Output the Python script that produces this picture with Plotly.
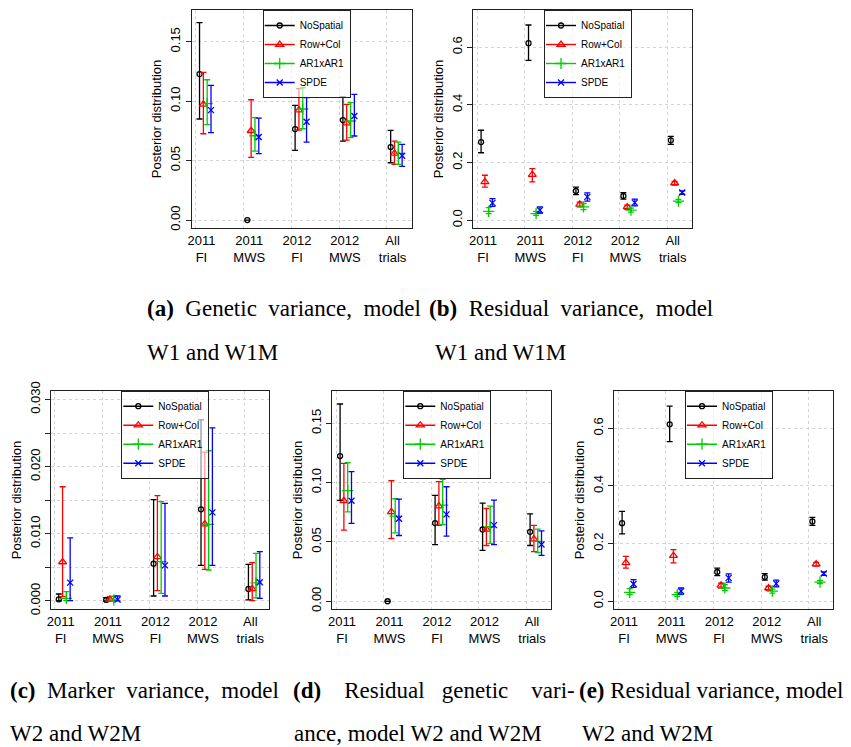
import plotly.graph_objects as go

# ---------------- data ----------------
GROUPS = ["2011<br>FI", "2011<br>MWS", "2012<br>FI", "2012<br>MWS", "All<br>trials"]
SERIES = ["NoSpatial", "Row+Col", "AR1xAR1", "SPDE"]

# (a) Genetic variance, model W1 and W1M  -- rows: NoSpatial, Row+Col, AR1xAR1, SPDE
A_EST = [[0.1228, 0.0, 0.0765, 0.0841, 0.0614],
         [0.0973, 0.0751, 0.0925, 0.0816, 0.0561],
         [0.0979, 0.0709, 0.0934, 0.0833, 0.0561],
         [0.0925, 0.0698, 0.0827, 0.0875, 0.0541]]
A_LO = [[0.0850, 0.0, 0.0586, 0.0664, 0.0482],
        [0.0726, 0.0527, 0.0757, 0.0673, 0.0468],
        [0.0802, 0.0580, 0.0768, 0.0693, 0.0468],
        [0.0735, 0.0558, 0.0656, 0.0707, 0.0451]]
A_HI = [[0.1660, 0.0, 0.0964, 0.1035, 0.0754],
        [0.1242, 0.1012, 0.1105, 0.0973, 0.0664],
        [0.1180, 0.0861, 0.1113, 0.0987, 0.0656],
        [0.1133, 0.0858, 0.1029, 0.1057, 0.0636]]

# (b) Residual variance, model W1 and W1M
B_EST = [[0.271, 0.614, 0.1015, 0.084, 0.277],
         [0.133, 0.158, 0.055, 0.046, 0.129],
         [0.031, 0.023, 0.046, 0.035, 0.066],
         [0.060, 0.035, 0.081, 0.061, 0.096]]
B_LO = [[0.234, 0.554, 0.089, 0.073, 0.263],
        [0.115, 0.133, 0.046, 0.038, 0.122],
        [0.023, 0.017, 0.037, 0.028, 0.061],
        [0.048, 0.025, 0.066, 0.050, 0.090]]
B_HI = [[0.312, 0.677, 0.115, 0.096, 0.291],
        [0.156, 0.179, 0.063, 0.052, 0.135],
        [0.044, 0.031, 0.058, 0.042, 0.072],
        [0.075, 0.046, 0.095, 0.073, 0.102]]

# (c) Marker variance, model W2 and W2M
C_EST = [[0.00025, 0.00015, 0.00555, 0.01364, 0.00179],
         [0.00580, 0.00025, 0.00655, 0.01145, 0.00179],
         [0.00040, 0.00015, 0.00585, 0.01140, 0.00268],
         [0.00273, 0.00020, 0.00530, 0.01319, 0.00278]]
C_LO = [[0.0, 0.0, 0.00074, 0.00530, 0.00015],
        [0.00064, 0.0, 0.00154, 0.00471, 0.00005],
        [0.00005, 0.0, 0.00114, 0.00461, 0.00045],
        [0.00005, 0.0, 0.00074, 0.00530, 0.00040]]
C_HI = [[0.00104, 0.00050, 0.01510, 0.02697, 0.00545],
        [0.01700, 0.00064, 0.01567, 0.02217, 0.00570],
        [0.00140, 0.00070, 0.01478, 0.02236, 0.00709],
        [0.00940, 0.00074, 0.01453, 0.02578, 0.00734]]

# (d) Residual genetic variance, model W2 and W2M
D_EST = [[0.1224, 0.0, 0.0659, 0.0605, 0.0585],
         [0.0847, 0.0754, 0.0802, 0.0605, 0.0524],
         [0.0932, 0.0718, 0.0811, 0.0628, 0.0504],
         [0.0847, 0.0695, 0.0732, 0.0642, 0.0478]]
D_LO = [[0.0850, 0.0, 0.0478, 0.0428, 0.0470],
        [0.0600, 0.0529, 0.0639, 0.0470, 0.0419],
        [0.0754, 0.0577, 0.0647, 0.0487, 0.0411],
        [0.0656, 0.0554, 0.0549, 0.0478, 0.0386]]
D_HI = [[0.1663, 0.0, 0.0892, 0.0827, 0.0737],
        [0.1162, 0.1016, 0.1008, 0.0782, 0.0639],
        [0.1168, 0.0864, 0.1027, 0.0802, 0.0608],
        [0.1092, 0.0861, 0.0965, 0.0853, 0.0594]]

# (e) Residual variance, model W2 and W2M
E_EST = [[0.271, 0.614, 0.1015, 0.084, 0.277],
         [0.133, 0.158, 0.055, 0.046, 0.129],
         [0.031, 0.023, 0.046, 0.035, 0.066],
         [0.060, 0.035, 0.081, 0.061, 0.096]]
E_LO = [[0.234, 0.554, 0.089, 0.073, 0.263],
        [0.115, 0.133, 0.046, 0.038, 0.122],
        [0.023, 0.017, 0.037, 0.028, 0.061],
        [0.048, 0.025, 0.066, 0.050, 0.090]]
E_HI = [[0.312, 0.677, 0.115, 0.096, 0.291],
        [0.156, 0.179, 0.063, 0.052, 0.135],
        [0.044, 0.031, 0.058, 0.042, 0.072],
        [0.075, 0.046, 0.095, 0.073, 0.102]]

TICKS_AD = [0.0, 0.05, 0.10, 0.15]
TICKS_AD_TXT = ["0.00", "0.05", "0.10", "0.15"]
TICKS_BE = [0.0, 0.2, 0.4, 0.6]
TICKS_BE_TXT = ["0.0", "0.2", "0.4", "0.6"]
TICKS_C = [0.0, 0.005, 0.010, 0.015, 0.020, 0.025, 0.030]
TICKS_C_TXT = ["0.000", "", "0.010", "", "0.020", "", "0.030"]

NB = "\u00a0"
CAPTIONS = [
    ("<b>(a)</b>" + NB + " Genetic" + NB + " variance," + NB + " model", 145, 308),
    ("W1 and W1M", 145, 352),
    ("<b>(b)</b>" + NB + " Residual" + NB + " variance," + NB + " model", 427, 308),
    ("W1 and W1M", 433, 352),
    ("<b>(c)</b>" + NB + " Marker" + NB + " variance," + NB + " model", 8, 690),
    ("W2 and W2M", 8, 733),
    ("<b>(d)</b>" + NB * 4 + "Residual" + NB * 3 + "genetic" + NB * 4 + "vari-", 291, 690),
    ("ance, model W2 and W2M", 292, 733),
    ("<b>(e)</b> Residual variance, model", 577, 690),
    ("W2 and W2M", 580, 733),
]

# ---------------- style ----------------
W, H = 851, 747
COLORS = ["#000000", "#FF0000", "#00CD00", "#0000FF"]
SYMBOLS = ["circle-open", "triangle-up-open", "cross-thin-open", "x-thin-open"]
SIZES = [5, 7, 8, 6]
OFFSETS = [0.08, 0.16, 0.24, 0.32]
LABEL_SHIFT = 0.12
FONT = "Liberation Sans, Arial, sans-serif"

# panel layout in pixels: (left, right, top, bottom)
PANELS = [
    dict(est=A_EST, lo=A_LO, hi=A_HI, box=(191.7, 411.7, 10, 228), yr=[-0.0067, 0.1767],
         tv=TICKS_AD, tt=TICKS_AD_TXT, leg=(262.7, 10)),
    dict(est=B_EST, lo=B_LO, hi=B_HI, box=(473.3, 691.7, 10, 228), yr=[-0.027, 0.729],
         tv=TICKS_BE, tt=TICKS_BE_TXT, leg=(544, 10)),
    dict(est=C_EST, lo=C_LO, hi=C_HI, box=(51, 269.3, 390.7, 609.3), yr=[-0.00124, 0.0313],
         tv=TICKS_C, tt=TICKS_C_TXT, leg=(121.3, 390.7)),
    dict(est=D_EST, lo=D_LO, hi=D_HI, box=(332.3, 551, 390.7, 609.3), yr=[-0.0068, 0.1775],
         tv=TICKS_AD, tt=TICKS_AD_TXT, leg=(403.3, 390.7)),
    dict(est=E_EST, lo=E_LO, hi=E_HI, box=(614.3, 833.3, 390.7, 609.3), yr=[-0.028, 0.7306],
         tv=TICKS_BE, tt=TICKS_BE_TXT, leg=(685, 390.7)),
]

fig = go.Figure()
layout = dict(
    width=W, height=H, margin=dict(l=0, r=0, t=0, b=0, autoexpand=False),
    paper_bgcolor="white", plot_bgcolor="white",
    font=dict(family=FONT, size=13, color="black"),
    showlegend=True,
)

group_x = list(range(1, len(GROUPS) + 1))

for p, pan in enumerate(PANELS):
    idx = "" if p == 0 else str(p + 1)
    xa, ya = "x" + idx, "y" + idx
    legname = "legend" + idx
    l, r, t, b = pan["box"]
    for s, name in enumerate(SERIES):
        est = pan["est"][s]
        plus = [(hv - ev) if hv != lv else None for ev, hv, lv in zip(est, pan["hi"][s], pan["lo"][s])]
        minus = [(ev - lv) if hv != lv else None for ev, hv, lv in zip(est, pan["hi"][s], pan["lo"][s])]
        fig.add_trace(go.Scatter(
            x=[g + OFFSETS[s] for g in group_x], y=est, mode="markers",
            xaxis=xa, yaxis=ya, showlegend=False,
            marker=dict(symbol=SYMBOLS[s], size=SIZES[s], color=COLORS[s],
                        line=dict(color=COLORS[s], width=1.3)),
            error_y=dict(type="data", symmetric=False, array=plus, arrayminus=minus,
                         color=COLORS[s], thickness=1.3, width=3),
        ))
        # legend key entry (line + marker)
        fig.add_trace(go.Scatter(
            x=[None], y=[None], mode="lines+markers", name=name,
            xaxis=xa, yaxis=ya, legend=legname, showlegend=True,
            line=dict(color=COLORS[s], width=1.4),
            marker=dict(symbol=SYMBOLS[s], size=SIZES[s], color=COLORS[s],
                        line=dict(color=COLORS[s], width=1.3)),
        ))
    axcommon = dict(showline=True, mirror=True, linecolor="#222222", linewidth=1.3,
                    zeroline=False, automargin=False)
    layout["xaxis" + idx] = dict(
        domain=[l / W, r / W], anchor=ya, range=[0.916, 5.52],
        tickmode="array", tickvals=[g + LABEL_SHIFT for g in group_x], ticktext=GROUPS,
        ticks="", showgrid=False, tickfont=dict(size=13, color="black"),
        minor=dict(tickmode="array", tickvals=group_x, showgrid=True,
                   gridcolor="#d4d4d4", griddash="dot", gridwidth=1, ticks=""),
        **axcommon)
    layout["yaxis" + idx] = dict(
        domain=[1 - b / H, 1 - t / H], anchor=xa, range=pan["yr"],
        tickmode="array", tickvals=pan["tv"], ticktext=pan["tt"], tickangle=-90,
        ticks="outside", ticklen=5, tickcolor="#222222", tickwidth=1,
        showgrid=True, gridcolor="#d4d4d4", griddash="dot", gridwidth=1,
        tickfont=dict(size=13, color="black"),
        title=dict(text="Posterior distribution", font=dict(size=13, color="black"), standoff=3),
        **axcommon)
    lx, ly = pan["leg"]
    layout[legname] = dict(
        x=lx / W, y=1 - ly / H, xanchor="left", yanchor="top",
        bgcolor="rgba(255,255,255,0.6)", bordercolor="#222222", borderwidth=1,
        font=dict(size=10, family=FONT, color="black"), itemwidth=30, tracegroupgap=0,
        indentation=-4,
    )

annotations = []
for text, px, py in CAPTIONS:
    annotations.append(dict(
        text=text, x=px / W, y=1 - py / H, xref="paper", yref="paper",
        xanchor="left", yanchor="middle", showarrow=False,
        font=dict(family="Liberation Serif, Times New Roman, serif", size=23, color="black"),
    ))
layout["annotations"] = annotations

fig.update_layout(**layout)
fig.write_html("out.html", config={"displayModeBar": False},
               post_script="document.body.style.margin='0';document.body.style.padding='0';")
